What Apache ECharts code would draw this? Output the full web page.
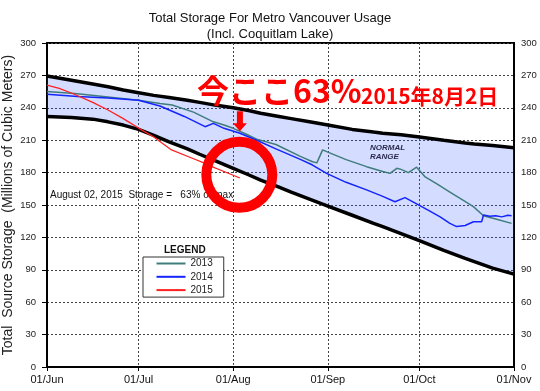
<!DOCTYPE html>
<html><head><meta charset="utf-8">
<script src="https://cdn.jsdelivr.net/npm/echarts@6/dist/echarts.min.js"></script>
<style>html,body{margin:0;padding:0;background:#fff}#c{width:540px;height:391px}</style>
</head><body><div id="c"></div>
<script>
// x values are days counted from 01/Jun
const monthDays = [0, 30, 61, 92, 122, 153];
const monthLabels = ['01/Jun', '01/Jul', '01/Aug', '01/Sep', '01/Oct', '01/Nov'];

const bandDays = [0, 8, 15, 20, 25, 30, 35, 40, 46, 50, 55, 61, 66, 70, 76, 80, 86, 92, 100, 107, 110, 116, 122, 130, 137, 140, 146, 153];
const bandHigh = [269.5, 265.5, 262, 259.5, 256.5, 254, 251.5, 249.5, 247, 245, 242.5, 240, 237.5, 235, 232, 230, 227, 224, 220, 217.5, 216.5, 215, 213, 210, 207.5, 206.5, 205, 203];
const bandLow  = [232, 231, 229.5, 227, 224, 220, 214.5, 208.5, 202, 197, 191, 184, 178, 173, 166.5, 162, 155.5, 149, 140.5, 133, 130, 123.5, 117, 108, 100.5, 97.5, 91.5, 86];

const days2013 = [0, 10, 20, 30, 37, 41, 48, 54.5, 58, 61, 65, 68.7, 75, 83, 87, 88.4, 90.3, 92, 98, 104.7, 110, 112.4, 114.6, 116, 118.4, 121.1, 123.9, 128, 132, 136, 139.7, 143, 147, 152.2];
const vals2013 = [255, 253, 250, 247, 244, 242.6, 236, 227, 224, 221, 216, 211, 206, 195, 190, 189, 201, 199, 192, 185.5, 181, 179.3, 184, 183, 180, 185, 176, 169, 162, 155, 148.5, 140, 137, 133];

const days2014 = [0, 10, 20, 30, 37, 45, 51.8, 54.5, 58, 63.2, 68.7, 75, 83, 87, 91.6, 98, 104.7, 110, 114, 117.3, 121.1, 125, 128.8, 132, 134.2, 137, 139.7, 142.4, 143, 145, 147, 149, 151, 152.2];
const vals2014 = [252.5, 250.5, 249, 247, 241.7, 232, 222.5, 225.6, 221, 216.4, 210, 202, 192.3, 187, 179.3, 171, 164, 158, 153, 156.8, 151, 145, 139, 133, 130, 131, 134.5, 134.5, 140.7, 139.5, 140, 139, 140.5, 140];

const days2015 = [0, 4, 8.6, 15, 20, 25, 30.1, 35, 40.8, 47, 51.8, 54, 58, 63.2];
const vals2015 = [261, 258, 253, 245, 238, 230, 221, 213, 201, 194, 188.6, 185.5, 181, 175];

const seriesNames = ['2013', '2014', '2015'];
const seriesColors = ['#3f7d7c', '#1424ff', '#ff2020'];

const zip = (xs, ys) => xs.map((x, i) => [x, ys[i]]);

const FONT = '"Liberation Sans", Arial, sans-serif';
const CJK = '"Noto Sans CJK JP", "Noto Sans CJK SC", sans-serif';

const chart = echarts.init(document.getElementById('c'), null, {renderer: 'canvas'});
chart.setOption({
  animation: false,
  backgroundColor: '#fff',
  title: {
    text: 'Total Storage For Metro Vancouver Usage\n(Incl. Coquitlam Lake)',
    left: 'center', top: 5,
    textStyle: {fontFamily: FONT, fontSize: 13, fontWeight: 'normal', color: '#111', lineHeight: 16}
  },
  grid: {left: 47, right: 26, top: 43, bottom: 24, show: true, borderColor: '#000', borderWidth: 2,
    backgroundColor: 'transparent', containLabel: false, outerBoundsMode: 'none'},
  xAxis: {
    type: 'value', min: 0, max: 153,
    axisLine: {show: true, lineStyle: {color: '#000', width: 2}},
    axisTick: {show: true, length: 4, lineStyle: {color: '#000'}, customValues: monthDays},
    axisLabel: {customValues: monthDays, fontFamily: FONT, fontSize: 11, color: '#111', margin: 7,
      formatter: v => monthLabels[monthDays.indexOf(v)] || ''},
    splitLine: {show: true, lineStyle: {color: '#444', width: 1, type: [2, 2]}}
  },
  yAxis: [{
    type: 'value', min: 0, max: 300, interval: 30, position: 'left',
    axisLine: {show: true, lineStyle: {color: '#000', width: 2}},
    axisTick: {show: true, length: 5, lineStyle: {color: '#000'}},
    axisLabel: {fontFamily: FONT, fontSize: 9.5, color: '#222', margin: 11},
    splitLine: {show: true, lineStyle: {color: '#444', width: 1, type: [2, 2]}},
    name: 'Total  Source Storage  (Millions of Cubic Meters)',
    nameLocation: 'middle', nameGap: 32, nameRotate: 90, nameMoveOverlap: false,
    nameTextStyle: {fontFamily: FONT, fontSize: 14, color: '#222'}
  }, {
    type: 'value', min: 0, max: 300, interval: 30, position: 'right',
    axisLine: {show: true, lineStyle: {color: '#000', width: 2}},
    axisTick: {show: false},
    axisLabel: {fontFamily: FONT, fontSize: 9.5, color: '#222', margin: 7},
    splitLine: {show: false}
  }],
  legend: {
    data: seriesNames,
    orient: 'vertical', left: 143, top: 257,
    icon: 'rect', itemWidth: 29, itemHeight: 2, itemGap: 1.3,
    padding: [0.5, 11, 1, 13.5],
    borderColor: '#333', borderWidth: 1, backgroundColor: '#fff',
    textStyle: {fontFamily: FONT, fontSize: 10, color: '#222', lineHeight: 12},
    selectedMode: false
  },
  graphic: [
    {type: 'text', z: 1, left: 50, top: 190, style: {text: 'August 02, 2015  Storage =   63% of max', fontFamily: FONT, fontSize: 10, fill: '#111'}},
    {type: 'text', z: 100, left: 164, top: 245, style: {text: 'LEGEND', fontFamily: FONT, fontSize: 10, fontWeight: 'bold', fill: '#111'}},
    {type: 'text', z: 100, left: 370, top: 143, style: {text: 'NORMAL\nRANGE', fontFamily: FONT, fontSize: 8, fontWeight: 'bold', fontStyle: 'italic', fill: '#2b2b4d', lineHeight: 9}},
    {type: 'text', z: 100, left: 197, top: 75, style: {text: '今ここ63%', fontFamily: CJK, fontSize: 32, fontWeight: 'bold', fill: '#ff0000'}},
    {type: 'text', z: 100, left: 361, top: 86, style: {text: '2015年8月2日', fontFamily: CJK, fontSize: 21, fontWeight: 'bold', fill: '#ff0000'}}
  ],
  series: [
    {name: 'normalRange', type: 'custom', data: [[0, 0]], encode: {x: 0, y: 1}, silent: true, z: 1, clip: true,
      renderItem: function (params, api) {
        const top = bandDays.map((d, i) => api.coord([d, bandHigh[i]]));
        const bottom = bandDays.map((d, i) => api.coord([d, bandLow[i]])).reverse();
        return {type: 'polygon', shape: {points: top.concat(bottom)},
          style: {fill: 'rgba(40,80,255,0.2)', stroke: null}};
      }},
    {name: 'max', type: 'line', data: zip(bandDays, bandHigh), symbol: 'none',
      lineStyle: {color: '#000', width: 3.5}, z: 3, silent: true},
    {name: 'min', type: 'line', data: zip(bandDays, bandLow), symbol: 'none',
      lineStyle: {color: '#000', width: 3.5}, z: 3, silent: true},
    {name: '2013', type: 'line', data: zip(days2013, vals2013), symbol: 'none', color: seriesColors[0],
      lineStyle: {color: seriesColors[0], width: 1.5}, z: 4},
    {name: '2014', type: 'line', data: zip(days2014, vals2014), symbol: 'none', color: seriesColors[1],
      lineStyle: {color: seriesColors[1], width: 1.5}, z: 5},
    {name: '2015', type: 'line', data: zip(days2015, vals2015), symbol: 'none', color: seriesColors[2],
      lineStyle: {color: seriesColors[2], width: 1.3}, z: 6,
      markPoint: {
        silent: true, z: 10, label: {show: false},
        data: [
          {coord: [63, 178], symbol: 'circle', symbolSize: 66,
            itemStyle: {color: 'transparent', borderColor: '#ff0000', borderWidth: 10}},
          {coord: [63.2, 227.5], symbol: 'path://M4,0 L10,0 L10,12 L14,12 L7,20 L0,12 L4,12 Z', symbolSize: [14, 20],
            symbolKeepAspect: false, itemStyle: {color: '#ff0000', borderWidth: 0}}
        ]
      }}
  ]
});
</script></body></html>
